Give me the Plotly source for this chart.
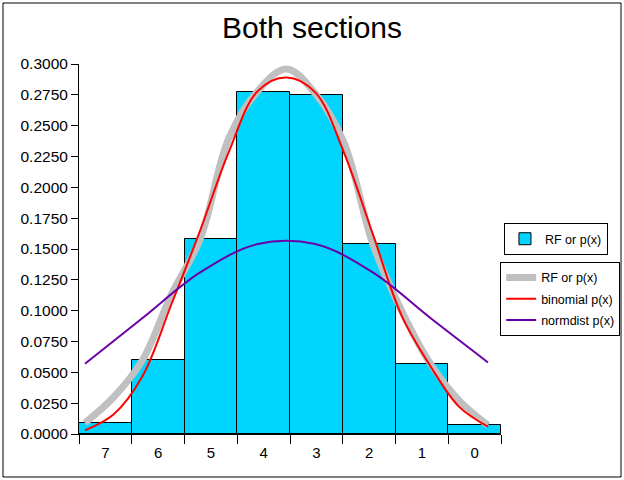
import plotly.graph_objects as go

# ---- data ----
categories = ["7", "6", "5", "4", "3", "2", "1", "0"]
rf_values = [0.009, 0.060, 0.158, 0.277, 0.275, 0.154, 0.057, 0.007]

# smoothed curves, read at half-step positions along the line axis
curve_x = [7, 6.5, 6, 5.5, 5, 4.5, 4, 3.5, 3, 2.5, 2, 1.5, 1, 0.5, 0]
rf_curve = [0.009, 0.030, 0.060, 0.113, 0.158, 0.240, 0.278, 0.296,
            0.276, 0.236, 0.154, 0.100, 0.057, 0.027, 0.007]
binomial_p = [0.003, 0.016, 0.047, 0.105, 0.165, 0.229, 0.278, 0.289,
              0.277, 0.228, 0.162, 0.096, 0.055, 0.022, 0.006]
normdist_x = [7, 6, 5, 4, 3, 2, 1, 0]
normdist_p = [0.057, 0.094, 0.131, 0.154, 0.154, 0.131, 0.094, 0.058]
y_ticks = [i * 0.025 for i in range(13)]

FONT = "Liberation Sans, Arial, sans-serif"

fig = go.Figure()

fig.add_trace(go.Bar(
    x=categories, y=rf_values, name="RF or p(x)",
    marker=dict(color="#00D5FF", line=dict(color="black", width=1)),
    legend="legend", xaxis="x", yaxis="y",
))

fig.add_trace(go.Scatter(
    x=curve_x, y=rf_curve, name="RF or p(x)", mode="lines",
    line=dict(color="#C0C0C0", width=7, shape="spline", smoothing=1),
    legend="legend2", legendgroup="g1", xaxis="x2", yaxis="y",
))
fig.add_trace(go.Scatter(
    x=curve_x, y=binomial_p, name="binomial p(x)", mode="lines",
    line=dict(color="#FF0000", width=2, shape="spline", smoothing=1),
    legend="legend2", legendgroup="g2", xaxis="x2", yaxis="y",
))
fig.add_trace(go.Scatter(
    x=normdist_x, y=normdist_p, name="normdist p(x)", mode="lines",
    line=dict(color="#6A00A8", width=2, shape="spline", smoothing=1),
    legend="legend2", legendgroup="g3", xaxis="x2", yaxis="y",
))

fig.update_layout(
    width=624, height=480,
    margin=dict(l=79, r=123, t=64, b=46, autoexpand=False),
    paper_bgcolor="white", plot_bgcolor="white",
    font=dict(family=FONT, color="black", size=14),
    title=dict(text="Both sections", x=0.5, xref="container", xanchor="center",
               y=0.942, yref="container", yanchor="middle",
               font=dict(family=FONT, size=30, color="black")),
    bargap=0,
    showlegend=True,
    xaxis=dict(type="category", categoryorder="array", categoryarray=categories,
               tickson="boundaries", ticks="outside", ticklen=9, tickcolor="black",
               ticklabelstandoff=5,
               showline=True, linecolor="black", linewidth=1, showgrid=False,
               tickfont=dict(size=15), zeroline=False, range=[-0.5, 7.5]),
    xaxis2=dict(overlaying="x", range=[7.104, -0.226], visible=False,
                showgrid=False, zeroline=False),
    yaxis=dict(range=[0, 0.3], tickvals=y_ticks, tickformat=".4f",
               ticks="outside", ticklen=7, tickcolor="black",
               showline=True, linecolor="black", linewidth=1,
               showgrid=False, zeroline=False, tickfont=dict(size=15.5)),
    legend=dict(x=1.007, y=0.570, xanchor="left", yanchor="top",
                bgcolor="white", bordercolor="black", borderwidth=1,
                font=dict(size=12.5, family=FONT), itemwidth=30),
    legend2=dict(x=0.998, y=0.465, xanchor="left", yanchor="top",
                 bgcolor="white", bordercolor="black", borderwidth=1,
                 font=dict(size=12.5, family=FONT), itemwidth=30,
                 tracegroupgap=2),
    shapes=[dict(type="rect", xref="paper", yref="paper",
                 x0=-0.1801, x1=1.2844, y0=-0.1162, y1=1.1649,
                 line=dict(color="black", width=1), layer="below")],
)

fig.write_html("out.html", config={"displayModeBar": False},
               post_script="document.body.style.margin='0px';")
